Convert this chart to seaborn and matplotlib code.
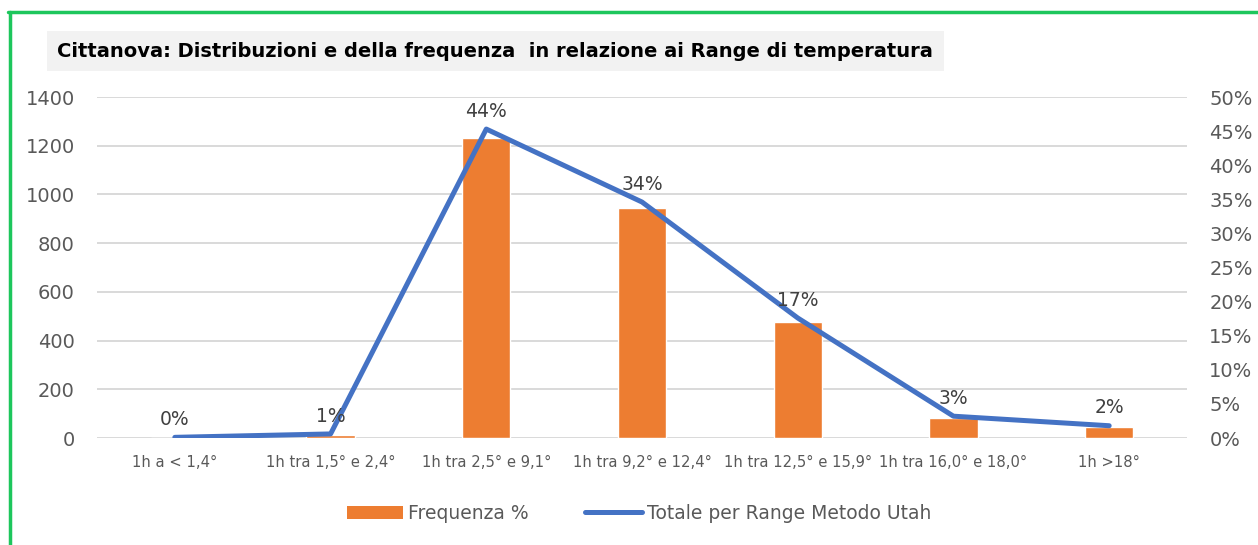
import numpy as np
import pandas as pd
import matplotlib.pyplot as plt
import seaborn as sns
from matplotlib.lines import Line2D
from matplotlib.patches import Patch

# dati
categorie = ["1h a < 1,4°", "1h tra 1,5° e 2,4°", "1h tra 2,5° e 9,1°", "1h tra 9,2° e 12,4°",
             "1h tra 12,5° e 15,9°", "1h tra 16,0° e 18,0°", "1h >18°"]
frequenza = [0, 12, 1232, 944, 478, 83, 45]
totale_utah = [0.001, 0.006, 0.453, 0.346, 0.176, 0.032, 0.018]
etichette = ["0%", "1%", "44%", "34%", "17%", "3%", "2%"]

arancio = "#ED7D31"
blu = "#4472C4"
grigio = "#595959"

sns.set_theme(style="white")
plt.rcParams['font.family'] = ['DejaVu Sans']

df = pd.DataFrame({"cat": categorie, "freq": frequenza, "utah": totale_utah})

fig = plt.figure(figsize=(12.58, 5.45), dpi=100)
ax = fig.add_axes([0.0771, 0.1963, 0.8665, 0.6257])

sns.barplot(data=df, x="cat", y="freq", color=arancio, width=0.31, saturation=1, ax=ax)
ax.set_ylim(0, 1400)
ax.set_yticks(range(0, 1401, 200))
ax.yaxis.grid(True, color="#d9d9d9", linewidth=1.4)
ax.set_axisbelow(True)
ax.set_xlabel("")
ax.set_ylabel("")
ax.tick_params(axis="y", labelsize=14, colors=grigio, length=0, pad=16)
ax.tick_params(axis="x", labelsize=10.6, colors=grigio, length=0, pad=12)
for s in ax.spines.values():
    s.set_visible(False)

ax2 = ax.twinx()
pos = np.arange(len(categorie))
sns.lineplot(x=pos, y=df["utah"], color=blu, linewidth=3.6, ax=ax2)
ax2.set_ylim(0, 0.5)
ax2.set_yticks(np.arange(0, 0.501, 0.05))
ax2.set_yticklabels([f"{int(round(v * 100))}%" for v in np.arange(0, 0.501, 0.05)])
ax2.tick_params(axis="y", labelsize=14, colors=grigio, length=0, pad=16)
ax2.set_ylabel("")
ax2.grid(False)
for s in ax2.spines.values():
    s.set_visible(False)
ax.set_xlim(-0.5, len(categorie) - 0.5)

for x, v, t in zip(pos, totale_utah, etichette):
    ax2.annotate(t, (x, v), xytext=(0, 6), textcoords="offset points",
                 ha="center", va="bottom", fontsize=13.5, color="#404040")

# titolo in riquadro grigio
fig.text(0.0455, 0.906, "Cittanova: Distribuzioni e della frequenza  in relazione ai Range di temperatura",
         fontsize=14, fontweight="bold", color="black", ha="left", va="center",
         bbox=dict(boxstyle="square,pad=0.55", facecolor="#f2f2f2", edgecolor="none"))

# legenda
handles = [Patch(facecolor=arancio, edgecolor="none"),
           Line2D([0], [0], color=blu, linewidth=3.6)]
fig.legend(handles, ["Frequenza %", "Totale per Range Metodo Utah"], loc="center",
           bbox_to_anchor=(0.508, 0.058), ncol=2, frameon=False, fontsize=13.5,
           labelcolor=grigio, handlelength=3.0, columnspacing=3.0, handletextpad=0.3)

# bordo verde
fig.add_artist(Line2D([0.0064, 1.0], [0.978, 0.978], color="#1DC65C", linewidth=2.5,
                      transform=fig.transFigure))
fig.add_artist(Line2D([0.0076, 0.0076], [0.0, 0.978], color="#1DC65C", linewidth=2.5,
                      transform=fig.transFigure))

fig.savefig("out.png", dpi=100)
plt.close(fig)
